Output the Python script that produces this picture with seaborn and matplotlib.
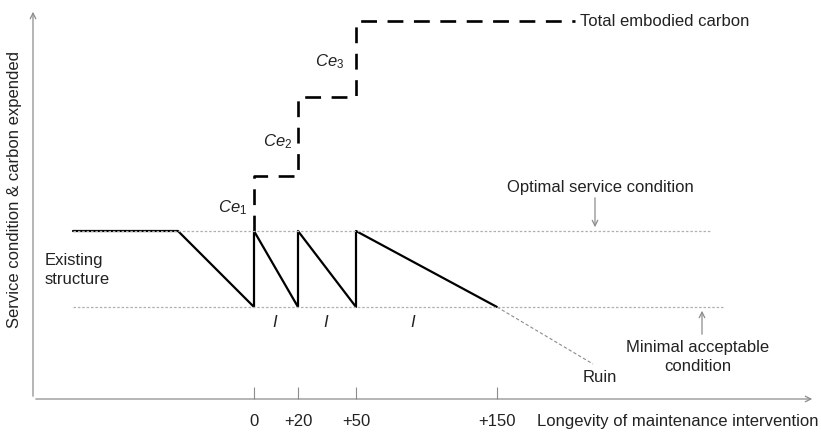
import numpy as np
import pandas as pd
import matplotlib
matplotlib.use("Agg")
import matplotlib.pyplot as plt
import seaborn as sns

# schematic positions (no real scale on either axis)
tick_labels = ["0", "+20", "+50", "+150"]
tick_x = [221, 265, 323, 464]          # intervention points along the time axis
optimal_level = 168                    # optimal service condition
minimal_level = 92                     # minimal acceptable condition
carbon_levels = [223, 302, 378]        # cumulative embodied carbon after Ce1..Ce3
carbon_end_x = 542
existing_x = [40, 145]                 # existing structure plateau
ruin_end = [560, 35]
ce_labels = ["$Ce_1$", "$Ce_2$", "$Ce_3$"]

GRAY = "#8c8c8c"
TXT = "#222222"

sns.set_style("white")
plt.rcParams["font.family"] = ["Liberation Sans", "DejaVu Sans"]
plt.rcParams["mathtext.fontset"] = "custom"
plt.rcParams["mathtext.it"] = "Liberation Sans:italic"
plt.rcParams["mathtext.rm"] = "Liberation Sans"

fig = plt.figure(figsize=(8.21, 4.35), dpi=100)
ax = fig.add_axes([33 / 821, 35 / 435, 782 / 821, 390 / 435])
ax.set_xlim(0, 782)
ax.set_ylim(0, 390)

# service condition sawtooth
sx = [existing_x[0], existing_x[1]]
sy = [optimal_level, optimal_level]
for i, x in enumerate(tick_x[:-1]):
    sx += [x, x]
    sy += [minimal_level, optimal_level]
sx.append(tick_x[-1])
sy.append(minimal_level)
service = pd.DataFrame({"x": sx, "y": sy})
sns.lineplot(data=service, x="x", y="y", sort=False, estimator=None,
             color="black", lw=1.6, ax=ax)

# decay to ruin if nothing is done
ruin = pd.DataFrame({"x": [tick_x[-1], ruin_end[0]], "y": [minimal_level, ruin_end[1]]})
sns.lineplot(data=ruin, x="x", y="y", sort=False, estimator=None,
             color=GRAY, lw=0.8, linestyle=(0, (3, 2)), ax=ax)

# total embodied carbon steps
cx, cy = [], []
prev = optimal_level
for x, lvl in zip(tick_x[:3], carbon_levels):
    cx += [x, x]
    cy += [prev, lvl]
    prev = lvl
cx.append(carbon_end_x)
cy.append(carbon_levels[-1])
carbon = pd.DataFrame({"x": cx, "y": cy})
sns.lineplot(data=carbon, x="x", y="y", sort=False, estimator=None,
             color="black", lw=1.9, linestyle=(0, (6, 4)), ax=ax)

# reference levels
ax.plot([existing_x[0], 677], [optimal_level] * 2, color="#b0b0b0", lw=0.9, ls=(0, (2, 1.5)))
ax.plot([existing_x[0], 690], [minimal_level] * 2, color="#b0b0b0", lw=0.9, ls=(0, (2, 1.5)))

# axes as arrows
for sp in ax.spines.values():
    sp.set_visible(False)
ax.annotate("", xy=(0, 1), xytext=(0, 0), xycoords="axes fraction",
            arrowprops=dict(arrowstyle="->", color=GRAY, lw=0.9))
ax.annotate("", xy=(1, 0), xytext=(0, 0), xycoords="axes fraction",
            arrowprops=dict(arrowstyle="->", color=GRAY, lw=0.9))

ax.set_xticks(tick_x, tick_labels)
ax.set_yticks([])
ax.tick_params(axis="x", bottom=True, direction="in", length=9, width=0.8, color=GRAY,
               labelsize=12, labelcolor=TXT, pad=10)
ax.set_xlabel("")
ax.set_ylabel("")

ax.text(504, -22, "Longevity of maintenance intervention", ha="left", va="center",
        fontsize=12, color=TXT, clip_on=False)
ax.text(-18, 210, "Service condition & carbon expended", rotation=90,
        ha="center", va="center", fontsize=12, color=TXT, clip_on=False)

ax.text(carbon_end_x + 5, carbon_levels[-1], "Total embodied carbon",
        ha="left", va="center", fontsize=12, color=TXT)
ce_pos = [(214, 192), (259, 258), (311, 338)]
for lab, (x, y) in zip(ce_labels, ce_pos):
    ax.text(x, y, lab, ha="right", va="center", fontsize=12, color=TXT)
for x in [242, 293, 380]:
    ax.text(x, 78, "$I$", ha="center", va="center", fontsize=12, color=TXT)

ax.text(12, 130, "Existing\nstructure", ha="left", va="center", fontsize=12,
        color=TXT, linespacing=1.3)
ax.text(567, 212, "Optimal service condition", ha="center", va="center",
        fontsize=12, color=TXT)
ax.annotate("", xy=(562, optimal_level + 1), xytext=(562, 204),
            arrowprops=dict(arrowstyle="->", color=GRAY, lw=0.9))
ax.text(665, 43, "Minimal acceptable\ncondition", ha="center", va="center",
        fontsize=12, color=TXT, linespacing=1.3)
ax.annotate("", xy=(669, minimal_level - 1), xytext=(669, 62),
            arrowprops=dict(arrowstyle="->", color=GRAY, lw=0.9))
ax.text(567, 22, "Ruin", ha="center", va="center", fontsize=12, color=TXT)

fig.savefig("out.png", dpi=100)
